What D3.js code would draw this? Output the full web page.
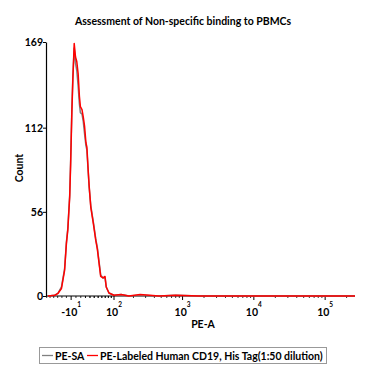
<!DOCTYPE html>
<html><head><meta charset="utf-8">
<script src="https://cdn.jsdelivr.net/npm/d3@7"></script>
<style>body{margin:0;background:#fff}svg text{font-family:Lato,"Open Sans",sans-serif;font-weight:bold;fill:#000}</style>
</head><body><svg id="c" width="378" height="378"></svg>
<script>
const title = "Assessment of Non-specific binding to PBMCs";
const xLabel = "PE-A";
const yLabel = "Count";
const seriesNames = ["PE-SA", "PE-Labeled Human CD19, His Tag(1:50 dilution)"];
const seriesColors = ["#808080", "#ff0000"];
const yTicks = [0, 56, 112, 169];
const xTickValues = [-10, 100, 1000, 10000, 100000];
const xTickBase = ["-10", "10", "10", "10", "10"];
const xTickExp = ["1", "2", "3", "4", "5"];
const binCenters = [-66,-47,-39,-31,-24,-20,-17,-13,-11,-8.5,-6.4,-3.6,-0.9,1.7,4.5,7.1,9.2,12.6,15.3,18.0,21.0,23.1,25.9,28.2,31.9,38.0,43.8,47.9,52.2,56.7,63.2,69.3,73.1,81.9,99.7,130,171,250,466,800,1718,5000,20000,100000,262144];
const grayCounts = [0,0.5,2,6,18,36,45,67,90,124,146,165,155,150,140,128,122,121,116,108,100,97,83,72,60,49,38,32,23,14,12,12,6,2,0.5,1,0,0.5,0,0.5,0,0,0,0,0];
const redCounts  = [0,0.5,1.8,5,17,35,44,66,88,122,144,168,159,156,148,133,126,124,119,113,102,99,84,73,59,48,37,31,22,13,12,13,6,2,0.5,1,0,1,0,0.5,0,0,0,0,0];

const svg = d3.select("#c");
const W = 32; // biexponential width parameter
const tf = v => Math.asinh(v / (2 * W));
const xLin = d3.scaleLinear().domain([tf(-72), tf(262144)]).range([46, 355]);
const x = v => xLin(tf(v));
const y = d3.scaleLinear().domain([0, 169]).range([296, 42]);

// title
svg.append("text").attr("x", 183).attr("y", 25).attr("text-anchor", "middle")
  .attr("font-size", 10.5).text(title);

// y axis
const yAxis = d3.axisLeft(y).tickValues(yTicks).tickSize(3).tickSizeOuter(0);
const gy = svg.append("g").attr("transform", "translate(46,0)").call(yAxis);
gy.selectAll("text").attr("font-size", 10.5).attr("x", -3).attr("dy", "0.32em");
gy.select(".domain").attr("stroke", "#000").attr("stroke-width", 1.2);

// x axis line
svg.append("line").attr("x1", 46).attr("x2", 355).attr("y1", 296).attr("y2", 296)
  .attr("stroke", "#000").attr("stroke-width", 1.2);
// minor ticks
const minor = [];
for (let e = 1; e <= 5; e++) for (let m = 2; m <= 9; m++) { const v = m * Math.pow(10, e); if (tf(v) <= tf(262144)) minor.push(v); }
[-20,-30,-40,-50,-60,-70,10,20,30,40,50,60,70,80,90].forEach(v => minor.push(v));
minor.push(0);
svg.append("g").selectAll("line").data(minor).join("line")
  .attr("x1", d => x(d)).attr("x2", d => x(d)).attr("y1", 296).attr("y2", 298)
  .attr("stroke", "#000").attr("stroke-width", 0.8);
svg.append("g").selectAll("line").data(xTickValues).join("line")
  .attr("x1", d => x(d)).attr("x2", d => x(d)).attr("y1", 296).attr("y2", 300)
  .attr("stroke", "#000").attr("stroke-width", 1);
const xl = svg.append("g").selectAll("text").data(xTickValues).join("text")
  .attr("x", d => x(d)).attr("y", 316).attr("text-anchor", "middle").attr("font-size", 10.5);
xl.append("tspan").text((d, i) => xTickBase[i]);
xl.append("tspan").attr("dy", -9).attr("font-size", 6.5).text((d, i) => xTickExp[i]);

// axis labels
svg.append("text").attr("x", 203).attr("y", 328).attr("text-anchor", "middle").attr("font-size", 10.5).text(xLabel);
svg.append("text").attr("transform", "translate(23,168) rotate(-90)").attr("text-anchor", "middle").attr("font-size", 10.5).text(yLabel);

// curves
const line = d3.line().x(d => x(d[0])).y(d => y(d[1]));
[grayCounts, redCounts].forEach((cts, i) => {
  svg.append("path").datum(binCenters.map((b, j) => [b, cts[j]]))
    .attr("d", line).attr("fill", "none").attr("stroke", seriesColors[i])
    .attr("stroke-width", 1.5).attr("stroke-linejoin", "round");
});

// legend
svg.append("rect").attr("x", 39.5).attr("y", 347.5).attr("width", 287).attr("height", 16)
  .attr("fill", "#fff").attr("stroke", "#999").attr("stroke-width", 1);
const legX = [42, 87];
seriesNames.forEach((n, i) => {
  svg.append("line").attr("x1", legX[i]).attr("x2", legX[i] + 11).attr("y1", 355.5).attr("y2", 355.5)
    .attr("stroke", seriesColors[i]).attr("stroke-width", 1.3);
  svg.append("text").attr("x", legX[i] + 13).attr("y", 359.5).attr("font-size", 10.5).text(n);
});
</script></body></html>
